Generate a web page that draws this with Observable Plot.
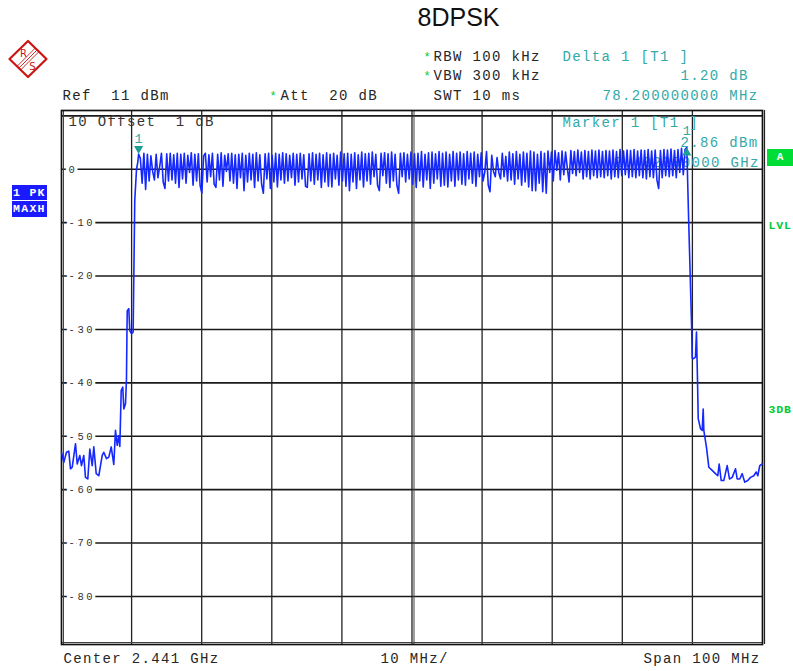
<!DOCTYPE html>
<html><head><meta charset="utf-8">
<script src="https://cdn.jsdelivr.net/npm/d3@7"></script>
<script src="https://cdn.jsdelivr.net/npm/@observablehq/plot@0.6"></script>
<style>
html,body{margin:0;padding:0;background:#fff;}
#wrap{position:relative;width:793px;height:671px;overflow:hidden;background:#fff;}
#chart svg{display:block}
svg text{white-space:pre;}
g[font-size="14"] text{letter-spacing:1.35px;}
g[font-size="10.5"] text{letter-spacing:2.6px;}
g[font-size="11.5"] text{letter-spacing:0.8px;}
.box{position:absolute;color:#fff;font:bold 11.5px 'Liberation Mono',monospace;letter-spacing:1.3px;white-space:pre;line-height:15px;}
</style></head><body>
<div id="wrap">
<div id="chart"></div>
<svg style="position:absolute;left:0;top:0" width="60" height="90">
  <defs><clipPath id="dia"><polygon points="28,41 46.5,59 28,77 9.5,59"/></clipPath></defs>
  <polygon points="28,41 46.5,59 28,77 9.5,59" fill="#fff" stroke="#cc1414" stroke-width="2.2" stroke-linejoin="round"/>
  <g clip-path="url(#dia)" stroke="#cc1414" stroke-width="0.9">
    <line x1="17" y1="70" x2="39" y2="48"/>
    <line x1="18.8" y1="71.8" x2="40.8" y2="49.8"/>
    <line x1="15.2" y1="68.2" x2="37.2" y2="46.2"/>
  </g>
  <text x="23.5" y="57" fill="#cc1414" font-family="DejaVu Sans" font-size="10" text-anchor="middle">R</text>
  <text x="32.5" y="70" fill="#cc1414" font-family="DejaVu Sans" font-size="10" text-anchor="middle">S</text>
</svg>
<div class="box" style="left:12px;top:185px;width:35px;height:15px;background:#1a1aff;padding-left:1px;box-sizing:border-box;">1 PK</div>
<div class="box" style="left:12px;top:201px;width:35px;height:16px;background:#1a1aff;padding-left:1px;box-sizing:border-box;">MAXH</div>
<div class="box" style="left:767px;top:149px;width:26px;height:17px;background:#00dd36;text-align:center;line-height:17px;font-size:11px;letter-spacing:0;">A</div>
</div>
<script>
// ---- grid / tick data ----
const xGrid = [-40, -30, -20, -10, 0, 10, 20, 30, 40];
const yGrid = [10, 0, -10, -20, -30, -40, -50, -60, -70, -80];
const yTickValues = [0, -10, -20, -30, -40, -50, -60, -70, -80];
const yTickLabels = ["0", "-10", "-20", "-30", "-40", "-50", "-60", "-70", "-80"];

// ---- trace: lower skirt (MHz offset from 2.441 GHz, dBm) ----
const leftFreq = [-50, -49.67, -49.29, -48.96, -48.72, -48.47, -48.0, -47.76, -47.39, -47.15,
  -46.82, -46.58, -46.25, -45.96, -45.62, -45.39, -45.05, -44.68, -44.19, -43.97,
  -43.58, -43.25, -42.91, -42.54, -42.30, -42.05, -41.83, -41.68, -41.48, -41.26,
  -41.11, -40.87, -40.73, -40.66, -40.62, -40.4, -40.26, -40.02, -39.78, -39.69,
  -39.55, -39.3, -39.12, -39.0];
const leftLevel = [-53.0, -54.9, -53.0, -52.8, -56.1, -55.8, -51.4, -55.2, -53.6, -55.5,
  -53.6, -57.7, -58.0, -52.4, -55.5, -52.0, -57.0, -57.4, -53.6, -53.0,
  -54.2, -53.9, -52.0, -55.3, -48.9, -51.7, -49.9, -51.9, -41.4, -40.8,
  -44.9, -43.9, -39.2, -30.2, -26.5, -26.1, -30.2, -30.8, -30.5, -20.8,
  -5.9, 0.0, 1.3, 2.86];

// ---- trace: in-band sweep points (uniform sweep from bandStart to bandEnd MHz) ----
const bandStart = -38.75, bandEnd = 38.95;
const bandLevel = [
  2.0, -2.6, 3.0, -3.8, 2.8, -2.2, 2.5, -0.4, -2.0, 2.8, -1.6, 0.5, 3.0, -2.4, -3.6, 2.9, -2.2, 3.0, -2.0, 2.7,
  -2.6, 3.0, -3.4, 2.8, -1.8, 3.0, -2.6, 2.6, -0.6, 3.1, -3.0, 2.8, -2.2, 2.9, -3.0, -4.5, 2.5, 3.0, -2.4, 2.7,
  -1.4, 3.0, -2.8, -3.4, 2.8, -2.0, 3.1, -3.2, 2.6, -0.4, 2.9, -2.2, 3.0, -2.6, 2.7, -3.6, 2.8, -1.6, 3.0, -4.0,
  2.6, -2.4, 3.0, -2.0, 2.8, -3.4, 3.1, -2.2, 2.7, -2.8, -4.5, 2.9, -1.8, 3.0, -3.6, 2.6, -2.4, 3.0, -3.3, 2.8,
  -2.0, 3.1, -2.6, 2.9, -2.2, 2.6, -1.6, 3.0, -3.0, 2.8, -2.4, 3.0, -1.8, 2.7, -3.2, -3.4, 2.9, -2.2, 3.1, -2.8,
  2.8, -2.0, 3.0, -3.4, 2.7, -2.4, 3.1, -3.2, 2.8, -3.3, 3.0, -1.8, 2.6, -3.0, 3.2, -2.2, 2.9, -3.2, 3.0, -4.0,
  2.8, -2.4, 3.1, -3.6, 2.7, -2.0, 3.2, -3.3, 2.9, -2.2, 3.0, -2.8, 3.2, -1.4, 2.8, -3.0, -4.0, 3.0, -1.2, 3.1,
  -2.6, 2.9, -3.4, 3.2, -2.2, 2.8, -3.0, -4.5, 3.0, -1.4, 3.1, -2.4, 2.8, -1.8, 3.2, -2.8, 2.9, -3.4, 3.0, -2.2,
  3.3, -3.3, 2.8, -2.0, 3.1, -3.6, 3.2, -2.6, 2.9, -1.8, 3.3, -3.2, 3.0, -3.0, 3.2, -3.3, 2.8, -2.2, 3.3, -3.2,
  3.0, -2.0, 3.2, -2.8, 2.9, -3.0, 3.3, -1.8, 3.0, -2.6, 3.2, -3.2, 2.8, -1.4, 3.1, -2.2, -0.6, 3.3, -3.0, -4.2,
  2.6, -0.4, -1.4, 2.2, -0.6, -1.8, 3.0, -1.4, 2.4, -2.2, 3.2, -2.0, 2.9, -2.8, 3.3, -1.8, 2.8, -3.0, 3.2, -2.4,
  3.0, -3.3, 3.4, -4.0, 3.2, -4.0, 2.8, -2.6, 3.3, -4.2, 3.0, -4.5, 3.4, -0.6, 3.2, -2.2, 3.5, -0.2, 3.1, -2.0,
  3.4, -1.0, 3.2, 0.2, -2.4, 3.5, -0.8, 3.3, -1.2, 3.6, -0.6, 3.2, -1.8, 3.5, -1.4, 3.3, -1.8, 3.6, -1.2, 3.4,
  -1.6, 3.6, -1.4, 3.3, -1.6, 3.5, -1.2, 3.4, -1.8, 3.6, -1.4, 3.3, -1.6, 3.7, -1.2, 3.4, -1.0, 3.6, -1.6, 3.5,
  -1.4, 3.7, -1.6, 3.4, -1.2, 3.6, -1.6, 3.5, -1.8, 3.7, -1.4, 3.4, -1.6, 3.6, -2.0, -3.6, 3.5, -1.6, 3.7, -1.2,
  3.6, -1.4, 3.8, -1.2, 3.5, -1.6, 3.7, -0.6, 3.9, -1.0, 3.7
];

// ---- trace: upper skirt ----
const rightFreq = [39.2, 39.45, 39.9, 39.97, 40.11, 40.44, 40.58, 40.73, 40.83, 41.16,
  41.40, 41.54, 41.63, 42.01, 42.34, 42.82, 43.29, 43.62, 43.82, 44.11,
  44.48, 44.96, 45.29, 45.68, 46.15, 46.39, 46.76, 47.10, 47.47, 47.90,
  48.29, 48.76, 49.10, 49.33, 49.61, 49.96];
const rightLevel = [4.06, -8.7, -30.0, -35.4, -35.5, -35.2, -30.5, -39.6, -46.7, -48.6,
  -48.9, -44.9, -48.9, -52.1, -55.8, -56.4, -57.0, -57.4, -55.2, -58.3,
  -58.3, -55.5, -58.0, -57.7, -56.1, -58.0, -58.0, -57.0, -58.6, -58.3,
  -57.7, -57.4, -56.7, -57.4, -55.5, -55.2];

// ---- markers ----
const markerFreq = [-39.0, 39.2];
const markerLevel = [2.86, 4.06];
const markerDir = ["down", "up"];

// ---- build tables ----
const trace = [];
leftFreq.forEach((f, i) => trace.push({f, db: leftLevel[i]}));
const step = (bandEnd - bandStart) / (bandLevel.length - 1);
bandLevel.forEach((db, i) => trace.push({f: bandStart + i * step, db}));
rightFreq.forEach((f, i) => trace.push({f, db: rightLevel[i]}));
const markers = markerFreq.map((f, i) => ({f, db: markerLevel[i], dir: markerDir[i]}));
const yTicks = yTickValues.map((v, i) => ({v, label: yTickLabels[i]}));

const triDown = {draw(ctx, size) {
  const y = Math.sqrt(size / (3 * Math.sqrt(3)));
  ctx.moveTo(0, 2 * y); ctx.lineTo(Math.sqrt(3) * y, -y); ctx.lineTo(-Math.sqrt(3) * y, -y); ctx.closePath();
}};

const ML = 61, MT = 110;
const TEAL = "#33a9a9", INK = "#262626", GREEN = "#00cc33";
const label = (s, X, B, fill, extra = {}) => Plot.text([s], {
  frameAnchor: "top-left", dx: X - ML, dy: B - MT, text: d => d,
  textAnchor: "start", lineAnchor: "bottom", fill, fontSize: 14,
  fontFamily: "'Liberation Mono', monospace", ...extra
});

const chart = Plot.plot({
  width: 793, height: 671,
  marginLeft: 61, marginRight: 31, marginTop: 110, marginBottom: 27,
  x: {domain: [-50, 50], axis: null},
  y: {domain: [-89, 11], axis: null},
  style: {fontFamily: "'Liberation Mono', monospace", background: "#fff", overflow: "visible"},
  marks: [
    Plot.ruleY(yGrid, {stroke: "#1a1a1a", strokeWidth: 1.6}),
    Plot.ruleX(xGrid, {stroke: "#222", strokeWidth: 1.3}),
    Plot.ruleX([0], {dx: 2, stroke: "#444", strokeWidth: 1}),
    Plot.ruleX([-50], {dx: 2, stroke: "#444", strokeWidth: 1}),
    Plot.ruleX([50], {dx: 2, stroke: "#222", strokeWidth: 1.2}),
    Plot.ruleY([-89], {dy: -2, stroke: "#444", strokeWidth: 1}),
    Plot.frame({stroke: "#111", strokeWidth: 1.7}),
    Plot.text(yTicks, {x: () => -50, y: "v", text: "label", dx: 7, textAnchor: "start",
      fill: "#333", stroke: "#fff", strokeWidth: 6.5, strokeLinejoin: "miter", paintOrder: "stroke", fontSize: 10.5}),
    label("10 Offset  1 dB", 68, 125, "#333"),
    label("Marker 1 [T1 ]", 562, 126, TEAL),
    label("2.86 dBm", 680, 146, TEAL),
    label("2.402000000 GHz", 613, 166, TEAL),
    Plot.line(trace, {x: "f", y: "db", stroke: "#1428ff", strokeWidth: 1.6}),
    Plot.dot(markers.filter(d => d.dir === "down"), {x: "f", y: "db", symbol: triDown, r: 3.4, fill: "#1f9e96", dy: -5.2}),
    Plot.dot(markers.filter(d => d.dir === "up"), {x: "f", y: "db", symbol: "triangle", r: 3.4, fill: "#1f9e96", dy: 5.2}),
    Plot.text(markers.filter(d => d.dir === "down"), {x: "f", y: "db", text: () => "1", dy: -15.5, fill: TEAL, fontSize: 13.5}),
    Plot.text(markers.filter(d => d.dir === "up"), {x: "f", y: "db", text: () => "1", dy: -16.5, fill: TEAL, fontSize: 13.5}),
    // header
    Plot.text(["8DPSK"], {frameAnchor: "top-left", dx: 417 - ML, dy: 25 - MT, text: d => d, textAnchor: "start",
      lineAnchor: "bottom", fill: "#111", fontSize: 25, fontFamily: "'Liberation Sans', Arial, sans-serif"}),
    label("*", 423, 60, GREEN, {fontSize: 12}),
    label("RBW 100 kHz", 433, 60, INK),
    label("Delta 1 [T1 ]", 562, 60, TEAL),
    label("*", 423, 79, GREEN, {fontSize: 12}),
    label("VBW 300 kHz", 433, 79, INK),
    label("1.20 dB", 680, 79, TEAL),
    label("Ref  11 dBm", 62, 99, INK),
    label("*", 269, 99, GREEN, {fontSize: 12}),
    label("Att  20 dB", 280, 99, INK),
    label("SWT 10 ms", 433, 99, INK),
    label("78.200000000 MHz", 602, 99, TEAL),
    label("Center 2.441 GHz", 63, 662, INK),
    label("10 MHz/", 380, 662, INK),
    label("Span 100 MHz", 643, 662, INK),
    label("LVL", 768, 228, GREEN, {fontSize: 11.5, fontWeight: "bold"}),
    label("3DB", 768, 412, GREEN, {fontSize: 11.5, fontWeight: "bold"})
  ]
});
document.getElementById("chart").appendChild(chart);
</script>
</body></html>
